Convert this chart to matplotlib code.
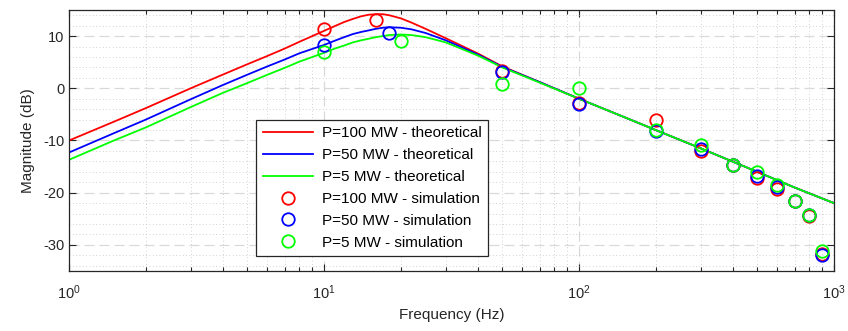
import matplotlib
matplotlib.use('Agg')
import matplotlib.pyplot as plt
from matplotlib.ticker import LogLocator, MultipleLocator, NullFormatter

plt.rcParams['font.family'] = ['Liberation Sans', 'DejaVu Sans']
plt.rcParams['mathtext.fontset'] = 'custom'
plt.rcParams['mathtext.rm'] = 'Liberation Sans'
plt.rcParams['axes.unicode_minus'] = False

# theoretical curves, values
freq_th = [1, 1.5, 2, 3, 4, 5, 6, 7, 8, 10, 11, 12, 13, 14, 15, 16, 17, 18, 20, 22,
           25, 30, 40, 50, 70, 100, 150, 200, 300, 500, 700, 1000]
mag_100 = [-10.0, -6.4, -3.8, 0.0, 2.6, 4.6, 6.2, 7.6, 8.9, 11.0, 11.9, 12.7, 13.3,
           13.8, 14.1, 14.2, 14.2, 14.0, 13.4, 12.6, 11.4, 9.6, 6.7, 4.2, 1.2, -2.0,
           -5.5, -8.0, -11.5, -16.0, -19.0, -22.0]
mag_50 = [-12.3, -8.6, -6.0, -2.1, 0.6, 2.6, 4.2, 5.5, 6.7, 8.3, 9.1, 9.8, 10.4,
          10.8, 11.1, 11.4, 11.6, 11.7, 11.6, 11.3, 10.6, 9.2, 6.5, 4.1, 1.2, -2.0,
          -5.5, -8.0, -11.5, -16.0, -19.0, -22.0]
mag_5 = [-13.7, -10.0, -7.5, -3.6, -0.9, 1.0, 2.6, 3.9, 5.1, 6.8, 7.6, 8.2, 8.8,
         9.2, 9.5, 9.8, 10.0, 10.2, 10.3, 10.2, 9.8, 8.8, 6.3, 4.0, 1.1, -2.0,
         -5.5, -8.0, -11.5, -16.0, -19.0, -22.0]

# simulation points
freq_sim_100 = [10, 16, 50, 100, 200, 300, 400, 500, 600, 700, 800, 900]
sim_100 = [11.3, 13.0, 3.4, -2.9, -6.0, -12.0, -14.7, -17.1, -19.2, -21.6, -24.4, -31.7]
freq_sim_50 = [10, 18, 50, 100, 200, 300, 400, 500, 600, 700, 800, 900]
sim_50 = [8.2, 10.5, 3.1, -3.1, -8.2, -11.7, -14.7, -16.8, -18.9, -21.5, -24.3, -31.9]
freq_sim_5 = [10, 20, 50, 100, 200, 300, 400, 500, 600, 700, 800, 900]
sim_5 = [6.9, 9.0, 0.8, 0.0, -7.9, -10.9, -14.6, -16.0, -18.5, -21.5, -24.3, -31.1]

fig = plt.figure(figsize=(8.48, 3.31), dpi=100)
ax = fig.add_axes([0.0814, 0.1813, 0.9021, 0.7885])

lw = 1.3
ax.semilogx(freq_th, mag_100, color=(1, 0, 0), lw=lw, label='P=100 MW - theoretical')
ax.semilogx(freq_th, mag_50, color=(0, 0, 1), lw=lw, label='P=50 MW - theoretical')
ax.semilogx(freq_th, mag_5, color=(0, 1, 0), lw=lw, label='P=5 MW - theoretical')

ms = 9
ax.plot(freq_sim_100, sim_100, 'o', ms=ms, mfc='none', mec=(1, 0, 0), mew=1.3,
        label='P=100 MW - simulation')
ax.plot(freq_sim_50, sim_50, 'o', ms=ms, mfc='none', mec=(0, 0, 1), mew=1.3,
        label='P=50 MW - simulation')
ax.plot(freq_sim_5, sim_5, 'o', ms=ms, mfc='none', mec=(0, 1, 0), mew=1.3,
        label='P=5 MW - simulation')

ax.set_xlim(1, 1000)
ax.set_ylim(-35, 15)
ax.xaxis.set_major_locator(LogLocator(base=10, numticks=10))
ax.xaxis.set_minor_locator(LogLocator(base=10, subs=range(2, 10), numticks=10))
ax.xaxis.set_minor_formatter(NullFormatter())
ax.yaxis.set_major_locator(MultipleLocator(10))
ax.yaxis.set_minor_locator(MultipleLocator(2))

ax.tick_params(which='both', direction='in', top=True, right=True, labelsize=10.5,
               colors='#262626', width=0.8)
ax.tick_params(which='major', length=5)
ax.tick_params(axis='x', which='minor', length=3)
ax.tick_params(axis='y', which='minor', length=0)
ax.tick_params(axis='x', pad=9)

ax.grid(True, which='major', color='#d9d9d9', linestyle=(0, (8, 4)), lw=0.9)
ax.grid(True, which='minor', color='#c4c4c4', linestyle=(0, (1, 3)), lw=0.6)
ax.set_axisbelow(True)
for s in ax.spines.values():
    s.set_color('#262626')
    s.set_linewidth(0.9)

ax.set_xlabel('Frequency (Hz)', fontsize=11, color='#262626')
ax.set_ylabel('Magnitude (dB)', fontsize=11, color='#262626', labelpad=6)

leg = ax.legend(loc='lower left', bbox_to_anchor=(0.245, 0.058), fontsize=11,
                fancybox=False, framealpha=1, edgecolor='#262626',
                handlelength=3.3, borderpad=0.4, labelspacing=0.52,
                handletextpad=0.6, borderaxespad=0)
leg.get_frame().set_linewidth(0.9)

fig.savefig('out.png', dpi=100)
